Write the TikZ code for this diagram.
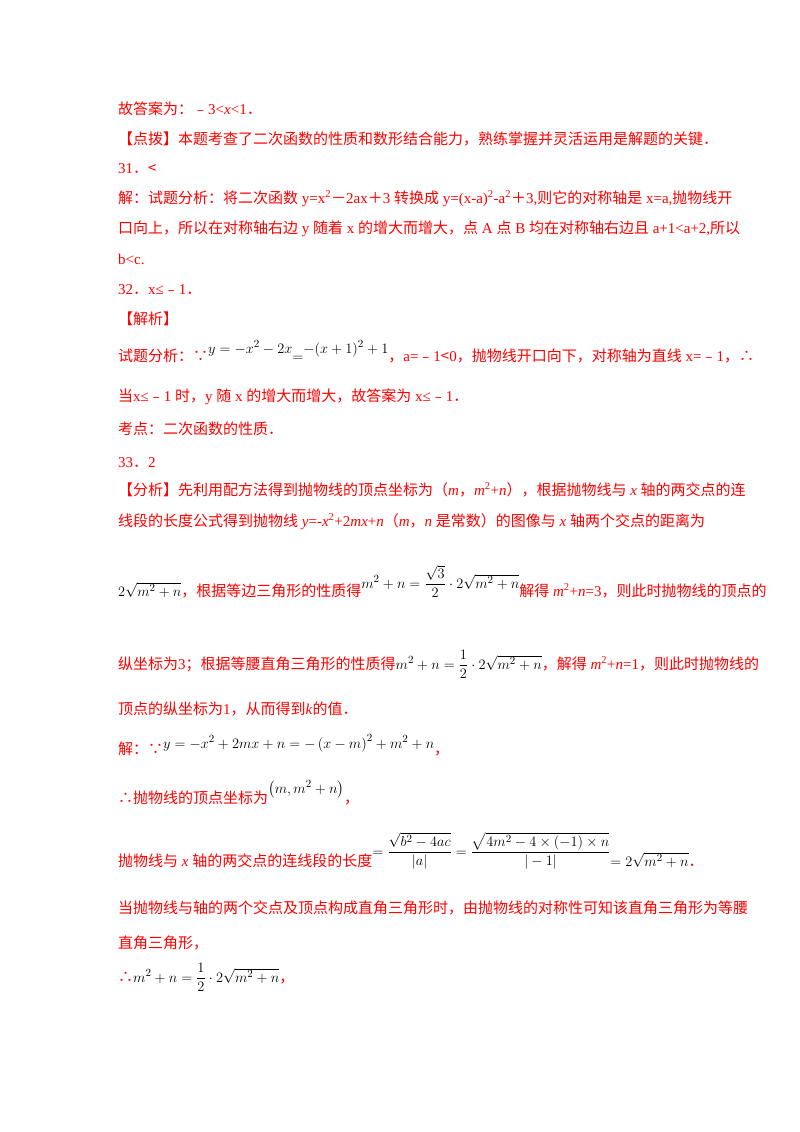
\documentclass[tikz,border=0pt]{standalone}
\usepackage{amsmath}
\usepackage{fontspec}
\setmainfont{Noto Sans CJK SC}
\newfontfamily\tn{Liberation Serif}
\definecolor{rd}{RGB}{255,0,0}
\newcommand{\LT}[1]{{\tn #1}}
\newcommand{\MT}[1]{\textcolor{black}{$#1$}}
\begin{document}
\begin{tikzpicture}[x=1pt,y=-1pt,
  ln/.style={anchor=base west,inner sep=0pt,text=rd,font=\fontsize{15}{18}\selectfont}]
\useasboundingbox[fill=white] (0,0) rectangle (800,1132);
\node[ln] (l1) at (118,114) {故答案为：﹣\LT{3<\textit{x}<1}．};
\node[ln] (l2) at (118,144) {【点拨】本题考查了二次函数的性质和数形结合能力，熟练掌握并灵活运用是解题的关键．};
\node[ln] (l3) at (118,173) {\LT{31}．<};
\node[ln] (l4) at (118,203) {解：试题分析：将二次函数\LT{ y=x\textsuperscript{2}}－\LT{2ax}＋\LT{3 }转换成\LT{ y=(x-a)\textsuperscript{2}-a\textsuperscript{2}}＋\LT{3,}则它的对称轴是\LT{ x=a,}抛物线开};
\node[ln] (l5) at (118,233) {口向上，所以在对称轴右边\LT{ y }随着\LT{ x }的增大而增大，点\LT{ A }点\LT{ B }均在对称轴右边且\LT{ a+1<a+2,}所以};
\node[ln] (l6) at (118,264) {\LT{b<c.}};
\node[ln] (l7) at (118,294) {\LT{32}．\LT{x≤}﹣\LT{1}．};
\node[ln] (l8) at (118,324) {【解析】};
\node[ln] (l9) at (118,361) {试题分析：∵\raisebox{8pt}{\MT{y=-x^2-2x}}\MT{=}\raisebox{8pt}{\MT{-(x+1)^2+1}}，\LT{a=}﹣\LT{1}<\LT{0}，抛物线开口向下，对称轴为直线\LT{ x=}﹣\LT{1}，∴};
\node[ln] (l10) at (118,401) {当\LT{x≤}﹣\LT{1 }时，\LT{y }随\LT{ x }的增大而增大，故答案为\LT{ x≤}﹣\LT{1}．};
\node[ln] (l11) at (118,434) {考点：二次函数的性质．};
\node[ln] (l12) at (118,467) {\LT{33}．\LT{2}};
\node[ln] (l13) at (118,495) {【分析】先利用配方法得到抛物线的顶点坐标为（\LT{\textit{m}}，\LT{\textit{m}\textsuperscript{2}+\textit{n}}），根据抛物线与\LT{ \textit{x} }轴的两交点的连};
\node[ln] (l14) at (118,526) {线段的长度公式得到抛物线\LT{ \textit{y}=-\textit{x}\textsuperscript{2}+2\textit{mx}+\textit{n}}（\LT{\textit{m}}，\LT{\textit{n} }是常数）的图像与\LT{ \textit{x} }轴两个交点的距离为};
\node[ln] (l15) at (118,596) {\MT{2\sqrt{m^2+n}}，根据等边三角形的性质得\raisebox{8pt}{\MT{m^2+n=\dfrac{\sqrt{3}}{2}\cdot2\sqrt{m^2+n}}}解得\LT{ \textit{m}\textsuperscript{2}+\textit{n}=3}，则此时抛物线的顶点的};
\node[ln] (l16) at (118,669) {纵坐标为\LT{3}；根据等腰直角三角形的性质得\MT{m^2+n=\dfrac{1}{2}\cdot2\sqrt{m^2+n}}，解得\LT{ \textit{m}\textsuperscript{2}+\textit{n}=1}，则此时抛物线的};
\node[ln] (l17) at (118,714) {顶点的纵坐标为\LT{1}，从而得到\LT{\textit{k}}的值．};
\node[ln] (l18) at (118,754) {解：∵\raisebox{6pt}{\MT{y=-x^2+2mx+n=-\left(x-m\right)^2+m^2+n}}，};
\node[ln] (l19) at (118,803) {∴抛物线的顶点坐标为\raisebox{10pt}{\MT{\left(m,m^2+n\right)}}，};
\node[ln] (l20) at (118,866) {抛物线与\LT{ \textit{x} }轴的两交点的连线段的长度\raisebox{10pt}{\MT{=\dfrac{\sqrt{b^2-4ac}}{|a|}=\dfrac{\sqrt{4m^2-4\times(-1)\times n}}{|-1|}}}\MT{=2\sqrt{m^2+n}}．};
\node[ln] (l21) at (118,913) {当抛物线与轴的两个交点及顶点构成直角三角形时，由抛物线的对称性可知该直角三角形为等腰};
\node[ln] (l22) at (118,948) {直角三角形，};
\node[ln] (l23) at (118,982) {∴\MT{m^2+n=\dfrac{1}{2}\cdot2\sqrt{m^2+n}}，};
\end{tikzpicture}
\end{document}
